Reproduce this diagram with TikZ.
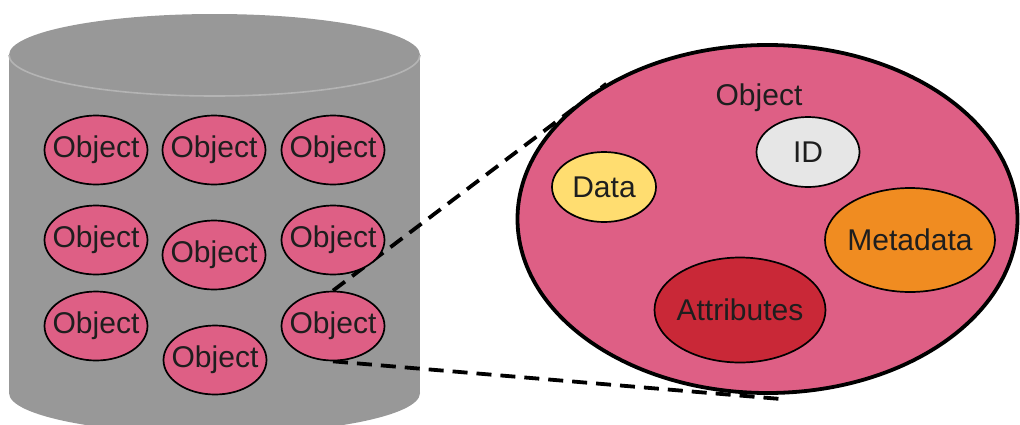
\documentclass[tikz,border=0pt]{standalone}
\usepackage{fontspec}
\setmainfont{Liberation Sans}
\usetikzlibrary{shapes.geometric}
\definecolor{cylgray}{HTML}{989898}
\definecolor{cylline}{HTML}{B4B4B4}
\definecolor{objpink}{HTML}{DE5F85}
\definecolor{datayel}{HTML}{FFDD70}
\definecolor{idgray}{HTML}{E6E6E6}
\definecolor{metaorg}{HTML}{F08C21}
\definecolor{attrred}{HTML}{C92837}
\definecolor{txt}{HTML}{1E1E1E}
\pgfdeclarelayer{bg}
\pgfdeclarelayer{mid}
\pgfsetlayers{bg,mid,main}
\tikzset{
  lbl/.style={text=txt, font=\fontsize{30}{34}\selectfont, inner sep=0pt},
  smallobj/.style={ellipse, draw=black, line width=1.7pt, fill=objpink, inner sep=0pt,
    minimum width=103pt, minimum height=69pt, label={[lbl]center:#1}},
  part/.style={ellipse, draw=black, line width=1.7pt, inner sep=0pt, label={[lbl]center:#1}},
  bigobj/.style={ellipse, draw=black, line width=3.8pt, fill=objpink, inner sep=0pt,
    minimum width=500pt, minimum height=348pt},
  zoomline/.style={draw=black, line width=3.8pt, dash pattern=on 15pt off 9pt}
}
\begin{document}
\begin{tikzpicture}[x=1pt,y=-1pt]
\useasboundingbox (0,0) rectangle (1020,424);
\clip (0,0) rectangle (1020,424);
% cylinder
\begin{pgfonlayer}{bg}
  \fill[cylgray] (9,55) rectangle (420,393);
  \fill[cylgray] (214.5,393) ellipse [x radius=205.5, y radius=41];
  \fill[cylgray] (214.5,55) ellipse [x radius=205.5, y radius=41];
  \draw[cylline, line width=1.6pt] (9,55) arc [start angle=180, end angle=0, x radius=205.5, y radius=41];
\end{pgfonlayer}
% small objects
\node[smallobj=Object] (o1) at (96,150) {};
\node[smallobj=Object] (o2) at (214,150) {};
\node[smallobj=Object] (o3) at (333,150) {};
\node[smallobj=Object] (o4) at (96,240) {};
\node[smallobj=Object] (o5) at (214,255) {};
\node[smallobj=Object] (o6) at (333,240) {};
\node[smallobj=Object] (o7) at (96,326) {};
\node[smallobj=Object] (o8) at (215,360) {};
\node[smallobj=Object] (o9) at (333,326) {};
% big object
\node[bigobj] (big) at (767.5,219) {};
\node[lbl] (biglabel) at (759,98) {Object};
\node[part=Data, fill=datayel, minimum width=104pt, minimum height=70pt] (data) at (604,187) {};
\node[part=ID, fill=idgray, minimum width=103pt, minimum height=70pt] (id) at (808,152) {};
\node[part=Metadata, fill=metaorg, minimum width=170pt, minimum height=104pt] (meta) at (910,240) {};
\node[part=Attributes, fill=attrred, minimum width=171pt, minimum height=105pt] (attr) at (740,310) {};
\coordinate (lowend) at (781,399);
% zoom lines
\begin{pgfonlayer}{mid}
  \draw[zoomline] (o9.north) -- (big.140.5);
  \draw[zoomline] (o9.south) -- (lowend);
\end{pgfonlayer}
\end{tikzpicture}
\end{document}
